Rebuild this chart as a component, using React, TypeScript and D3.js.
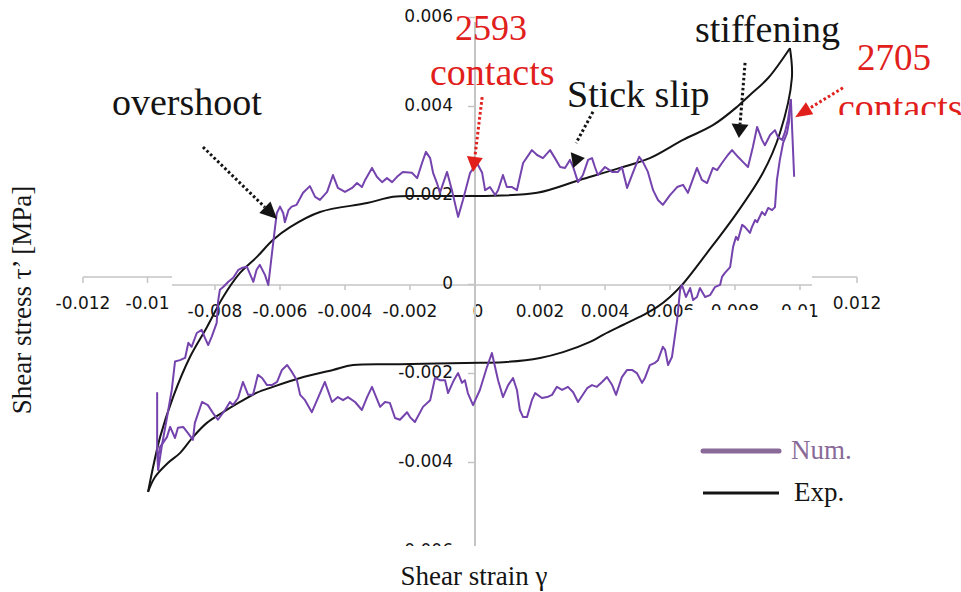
import React from 'react';
import * as d3 from 'd3';

// Shear strain γ and shear stress τ' [MPa]; every value below is in units of 1e-3.
const strainTicks = [-8, -6, -4, -2, 0, 2, 4, 6, 8, 10];
const strainTicksOuter = [-12, -10, 12];
const stressTicks = [6, 4, 2, 0, -2, -4, -6];

// Experiment: loading branch (strain increasing) and unloading branch (strain decreasing)
const expLoading: [number, number][] = [
  [-10.06, -4.66], [-9.69, -3.43], [-9.29, -2.53], [-8.77, -1.63], [-8.25, -0.96],
  [-7.75, -0.28], [-7.23, 0.26], [-6.71, 0.62], [-6.22, 1.0], [-5.69, 1.29],
  [-4.77, 1.63], [-3.32, 1.83], [-2.52, 1.97], [-1.78, 1.99], [0.15, 1.99],
  [1.91, 2.06], [3.23, 2.35], [4.46, 2.62], [5.38, 2.84], [6.4, 3.25],
  [7.32, 3.58], [8.06, 3.99], [8.46, 4.26], [9.02, 4.64], [9.69, 5.31],
];
const expUnloading: [number, number][] = [
  [9.69, 5.31], [9.75, 4.64], [9.38, 3.4], [8.86, 2.51], [8.06, 1.61],
  [7.14, 0.71], [6.37, -0.01], [6.0, -0.28], [5.6, -0.51], [5.17, -0.69],
  [4.55, -0.91], [3.94, -1.13], [3.54, -1.29], [2.71, -1.52], [2.0, -1.65],
  [0.98, -1.74], [0.15, -1.76], [-2.31, -1.79], [-3.75, -1.81], [-4.37, -1.92],
  [-5.38, -2.1], [-6.22, -2.3], [-6.71, -2.43], [-7.23, -2.64], [-7.75, -2.87],
  [-8.25, -3.11], [-8.68, -3.43], [-9.08, -3.79], [-9.45, -4.01], [-9.85, -4.33],
  [-10.06, -4.66],
];

// DEM simulation: loading branch, ending with the drop after the peak
const numLoading: [number, number][] = [
  [-9.78, -2.42], [-9.78, -3.76], [-9.75, -4.17], [-9.64, -3.64], [-9.49, -3.04],
  [-9.33, -2.37], [-9.23, -1.73], [-9.08, -1.7], [-8.92, -1.65], [-8.82, -1.31],
  [-8.72, -1.4], [-8.56, -1.09], [-8.41, -1.02], [-8.31, -1.2], [-8.21, -1.36],
  [-8.1, -1.17], [-7.95, -0.87], [-7.9, -0.35], [-7.85, -0.12], [-7.74, -0.05],
  [-7.59, 0.06], [-7.44, 0.15], [-7.28, 0.33], [-7.18, 0.37], [-7.02, 0.4],
  [-6.82, 0.06], [-6.72, 0.33], [-6.62, 0.44], [-6.46, 0.21], [-6.36, -0.01],
  [-6.26, 0.62], [-6.15, 1.3], [-6.1, 1.6], [-6.0, 1.75], [-5.9, 1.6],
  [-5.85, 1.4], [-5.74, 1.67], [-5.64, 1.75], [-5.49, 1.79], [-5.29, 2.06],
  [-5.08, 2.21], [-4.92, 1.97], [-4.77, 1.9], [-4.55, 2.08], [-4.37, 2.46],
  [-4.22, 2.17], [-4.0, 2.08], [-3.78, 2.17], [-3.63, 2.28], [-3.48, 2.19],
  [-3.38, 2.35], [-3.17, 2.62], [-3.02, 2.42], [-2.86, 2.3], [-2.71, 2.39],
  [-2.55, 2.3], [-2.4, 2.42], [-2.22, 2.53], [-1.94, 2.51], [-1.78, 2.39],
  [-1.63, 2.73], [-1.51, 2.98], [-1.38, 2.84], [-1.29, 2.51], [-1.17, 2.28],
  [-1.08, 2.06], [-0.86, 2.53], [-0.71, 2.12], [-0.52, 1.52], [-0.37, 1.9],
  [-0.15, 2.51], [0.06, 2.73], [0.22, 2.51], [0.31, 2.12], [0.46, 2.19],
  [0.62, 2.01], [0.71, 2.12], [0.86, 2.46], [0.98, 2.19], [1.14, 2.19],
  [1.29, 2.12], [1.48, 2.73], [1.75, 3.02], [1.91, 2.91], [2.09, 2.84],
  [2.31, 3.02], [2.46, 2.84], [2.62, 2.64], [2.77, 2.62], [2.92, 2.8],
  [3.02, 2.64], [3.17, 2.3], [3.32, 2.46], [3.48, 2.8], [3.6, 2.84],
  [3.69, 2.64], [3.78, 2.46], [4.0, 2.64], [4.22, 2.53], [4.4, 2.53],
  [4.52, 2.64], [4.68, 2.17], [4.83, 2.46], [5.05, 2.87], [5.17, 2.75],
  [5.32, 2.53], [5.48, 2.12], [5.63, 1.9], [5.78, 1.79], [6.0, 2.01],
  [6.22, 2.19], [6.4, 2.24], [6.55, 2.06], [6.83, 2.62], [6.98, 2.35],
  [7.14, 2.28], [7.32, 2.62], [7.45, 2.57], [7.6, 2.73], [7.78, 2.91],
  [7.91, 3.02], [8.09, 2.87], [8.25, 2.75], [8.4, 2.64], [8.55, 3.09],
  [8.68, 3.54], [8.83, 3.25], [8.92, 3.13], [9.08, 3.36], [9.23, 3.47],
  [9.32, 3.31], [9.45, 3.25], [9.54, 3.43], [9.63, 3.7], [9.72, 4.15],
  [9.82, 2.42],
];

// DEM simulation: unloading branch back to the negative strain peak
const numUnloading: [number, number][] = [
  [9.72, 4.15], [9.66, 3.65], [9.6, 3.4], [9.48, 3.18], [9.38, 2.8],
  [9.29, 2.35], [9.23, 1.74], [9.14, 1.67], [9.02, 1.72], [8.92, 1.56],
  [8.83, 1.63], [8.68, 1.4], [8.62, 1.45], [8.52, 1.29], [8.46, 1.16],
  [8.31, 1.29], [8.22, 1.34], [8.09, 1.0], [8.03, 1.07], [7.94, 0.84],
  [7.85, 0.39], [7.69, 0.26], [7.6, 0.17], [7.54, -0.01], [7.38, -0.06],
  [7.23, -0.24], [7.08, -0.28], [6.92, -0.08], [6.83, -0.28], [6.71, -0.35],
  [6.62, -0.08], [6.49, -0.28], [6.37, -0.01], [6.31, -0.12], [6.22, -0.8],
  [6.06, -1.63], [5.94, -1.81], [5.85, -1.47], [5.78, -1.4], [5.63, -1.7],
  [5.54, -1.76], [5.38, -1.81], [5.23, -2.1], [5.14, -2.21], [4.98, -1.99],
  [4.83, -1.92], [4.68, -1.92], [4.52, -2.08], [4.34, -2.48], [4.22, -2.26],
  [4.06, -2.08], [3.91, -2.19], [3.75, -2.3], [3.6, -2.26], [3.45, -2.33],
  [3.17, -2.64], [3.02, -2.42], [2.86, -2.3], [2.68, -2.37], [2.52, -2.3],
  [2.37, -2.48], [2.22, -2.53], [2.06, -2.55], [1.85, -2.44], [1.75, -2.6],
  [1.6, -2.98], [1.48, -2.98], [1.38, -2.82], [1.29, -2.37], [1.17, -2.1],
  [1.02, -2.26], [0.86, -2.53], [0.71, -2.15], [0.52, -1.54], [0.37, -1.85],
  [0.15, -2.37], [-0.06, -2.71], [-0.22, -2.44], [-0.31, -2.15], [-0.4, -2.21],
  [-0.52, -1.99], [-0.65, -2.15], [-0.83, -2.44], [-0.92, -2.15], [-1.08, -2.15],
  [-1.23, -2.1], [-1.38, -2.6], [-1.6, -2.75], [-1.85, -3.09], [-2.0, -2.98],
  [-2.09, -2.87], [-2.31, -3.04], [-2.46, -3.0], [-2.62, -2.66], [-2.77, -2.64],
  [-2.92, -2.75], [-3.17, -2.3], [-3.32, -2.53], [-3.48, -2.82], [-3.69, -2.64],
  [-3.91, -2.53], [-4.06, -2.6], [-4.22, -2.53], [-4.4, -2.64], [-4.62, -2.19],
  [-4.83, -2.55], [-5.02, -2.87], [-5.23, -2.6], [-5.38, -2.48], [-5.48, -2.15],
  [-5.63, -1.97], [-5.78, -1.81], [-5.94, -1.92], [-6.09, -2.19], [-6.25, -2.26],
  [-6.4, -2.26], [-6.55, -2.1], [-6.68, -2.03], [-6.83, -2.48], [-6.98, -2.48],
  [-7.14, -2.19], [-7.29, -2.55], [-7.45, -2.71], [-7.54, -2.64], [-7.69, -2.82],
  [-7.91, -3.04], [-8.06, -2.89], [-8.22, -2.71], [-8.4, -2.64], [-8.62, -3.11],
  [-8.68, -3.49], [-8.83, -3.34], [-8.98, -3.2], [-9.14, -3.22], [-9.23, -3.45],
  [-9.38, -3.2], [-9.48, -3.43], [-9.6, -3.56], [-9.69, -3.65], [-9.75, -3.88],
  [-9.75, -4.17],
];

const W = 961;
const H = 592;
const NUM_COLOR = '#7443ad';
const NUM_LEGEND = '#8a6a98';
const RED = '#e1201c';
const INK = '#141414';
const AXIS = '#c4c4c4';
const SERIF = '"Liberation Serif", "Times New Roman", serif';
const SANS = '"DejaVu Sans", sans-serif';

const x = d3.scaleLinear().domain([-12, 12]).range([85, 865]);
const xOuter = d3.scaleLinear().domain([-12, 12]).range([83, 857]);
const y = d3.scaleLinear().domain([-6, 6]).range([551.5, 17.5]);

const fmt = (v: number) => (v === 0 ? '0' : String(+(v / 1000).toFixed(3)));

const line = d3
  .line<[number, number]>()
  .x((d) => x(d[0]))
  .y((d) => y(d[1]));
const smooth = d3
  .line<[number, number]>()
  .x((d) => x(d[0]))
  .y((d) => y(d[1]))
  .curve(d3.curveCatmullRom.alpha(0.5));

type Callout = {
  from: [number, number];
  tip: [number, number];
  color: string;
  lineEnd?: [number, number];
  headAngle?: number;
  len: number;
  width: number;
};

// Dotted arrows pointing at features of the loops (data units)
const callouts: Callout[] = [
  { from: [-8.37, 3.09], tip: [-6.09, 1.47], color: INK, len: 17, width: 16 },
  { from: [0.22, 4.21], tip: [-0.06, 2.53], color: RED, len: 15, width: 16 },
  { from: [3.63, 3.88], lineEnd: [3.11, 3.18], tip: [3.38, 2.84], headAngle: -9, color: INK, len: 13, width: 16 },
  { from: [8.31, 4.98], tip: [8.12, 3.29], color: INK, len: 14, width: 17 },
  { from: [11.32, 4.42], tip: [9.85, 3.76], color: RED, len: 17, width: 14 },
];

function headPoints(tip: [number, number], dir: [number, number], len: number, width: number) {
  const n = Math.hypot(dir[0], dir[1]) || 1;
  const ux = dir[0] / n;
  const uy = dir[1] / n;
  const bx = tip[0] - ux * len;
  const by = tip[1] - uy * len;
  const px = -uy * (width / 2);
  const py = ux * (width / 2);
  return {
    points: `${tip[0]},${tip[1]} ${bx + px},${by + py} ${bx - px},${by - py}`,
    base: [bx, by] as [number, number],
  };
}

function Arrow({ c }: { c: Callout }) {
  const s: [number, number] = [x(c.from[0]), y(c.from[1])];
  const t: [number, number] = [x(c.tip[0]), y(c.tip[1])];
  const dir: [number, number] =
    c.headAngle !== undefined
      ? [Math.cos((c.headAngle * Math.PI) / 180), Math.sin((c.headAngle * Math.PI) / 180)]
      : [t[0] - s[0], t[1] - s[1]];
  const h = headPoints(t, dir, c.len, c.width);
  const e = c.lineEnd ? [x(c.lineEnd[0]), y(c.lineEnd[1])] : h.base;
  return (
    <g>
      <line
        x1={s[0]}
        y1={s[1]}
        x2={e[0]}
        y2={e[1]}
        stroke={c.color}
        strokeWidth={3}
        strokeDasharray="2.6 2.4"
      />
      <polygon points={h.points} fill={c.color} />
    </g>
  );
}

export default function App() {
  const y0 = y(0);
  const mainAxisY = y0 + 0.5;
  const stubY = y0 - 7.5;
  return (
    <svg
      width={W}
      height={H}
      viewBox={`0 0 ${W} ${H}`}
      style={{ position: 'absolute', left: 0, top: 0, background: '#fff' }}
    >
      <defs>
        <clipPath id="right-note">
          <rect x={0} y={0} width={W} height={115} />
        </clipPath>
      </defs>
      <rect x={0} y={0} width={W} height={H} fill="#fff" />

      {/* outer strain scale stubs */}
      <line x1={xOuter(-12)} x2={172} y1={stubY} y2={stubY} stroke={AXIS} strokeWidth={1.5} />
      <line x1={812} x2={xOuter(12)} y1={stubY} y2={stubY} stroke={AXIS} strokeWidth={1.5} />
      {strainTicksOuter.map((v) => (
        <g key={`o${v}`}>
          <line x1={xOuter(v)} x2={xOuter(v)} y1={stubY} y2={stubY + 6} stroke={AXIS} strokeWidth={1.5} />
          <text x={xOuter(v)} y={stubY + 32} textAnchor="middle" fontFamily={SANS} fontSize={17} fill={INK}>
            {fmt(v)}
          </text>
        </g>
      ))}

      {/* strain axis */}
      <line x1={172} x2={812} y1={mainAxisY} y2={mainAxisY} stroke={AXIS} strokeWidth={1.5} />
      {strainTicks.map((v) => (
        <g key={`x${v}`}>
          {v !== 0 && (
            <line x1={x(v)} x2={x(v)} y1={mainAxisY} y2={mainAxisY + 5} stroke={AXIS} strokeWidth={1.5} />
          )}
          <text x={x(v) + (v === 0 ? 3 : 0)} y={mainAxisY + 32} textAnchor="middle" fontFamily={SANS} fontSize={17} fill={INK}>
            {fmt(v)}
          </text>
        </g>
      ))}

      {/* stress axis */}
      <line x1={x(0)} x2={x(0)} y1={22} y2={546} stroke={AXIS} strokeWidth={2} />
      {stressTicks.map((v) => (
        <g key={`y${v}`}>
          <line x1={x(0) - 7} x2={x(0)} y1={y(v)} y2={y(v)} stroke={AXIS} strokeWidth={1.5} />
          <text x={453} y={y(v) + 4.5} textAnchor="end" fontFamily={SANS} fontSize={17} fill={INK}>
            {fmt(v)}
          </text>
        </g>
      ))}
      <rect x={380} y={546} width={120} height={20} fill="#fff" />
      <rect x={684} y={310} width={128} height={16} fill="#fff" />

      {/* hysteresis loops */}
      <path d={smooth(expLoading) || ''} fill="none" stroke={INK} strokeWidth={2} />
      <path d={smooth(expUnloading) || ''} fill="none" stroke={INK} strokeWidth={2} />
      <path d={line(numLoading) || ''} fill="none" stroke={NUM_COLOR} strokeWidth={2} strokeLinejoin="round" />
      <path d={line(numUnloading) || ''} fill="none" stroke={NUM_COLOR} strokeWidth={2} strokeLinejoin="round" />

      {/* callouts */}
      {callouts.map((c, i) => (
        <Arrow key={i} c={c} />
      ))}
      <text x={112} y={115} fontFamily={SERIF} fontSize={38} fill={INK}>overshoot</text>
      <text x={455} y={40} fontFamily={SERIF} fontSize={36} fill={RED}>2593</text>
      <text x={430} y={85} fontFamily={SERIF} fontSize={38} fill={RED}>contacts</text>
      <text x={567} y={107} fontFamily={SERIF} fontSize={38} fill={INK}>Stick slip</text>
      <text x={695} y={42} fontFamily={SERIF} fontSize={38} fill={INK}>stiffening</text>
      <text x={857} y={70} fontFamily={SERIF} fontSize={37} fill={RED}>2705</text>
      <g clipPath="url(#right-note)">
        <text x={838} y={120} fontFamily={SERIF} fontSize={38} fill={RED}>contacts</text>
      </g>

      {/* legend */}
      <line x1={703} x2={779} y1={451} y2={451} stroke={NUM_LEGEND} strokeWidth={5} strokeLinecap="round" />
      <text x={791} y={459} fontFamily={SERIF} fontSize={27} fill={NUM_LEGEND}>Num.</text>
      <line x1={703} x2={779} y1={493} y2={493} stroke={INK} strokeWidth={3} />
      <text x={794} y={501} fontFamily={SERIF} fontSize={27} fill={INK}>Exp.</text>

      {/* axis titles */}
      <text x={474} y={585} textAnchor="middle" fontFamily={SERIF} fontSize={27} fill={INK}>
        Shear strain γ
      </text>
      <text transform="translate(31,300) rotate(-90)" textAnchor="middle" fontFamily={SERIF} fontSize={27} fill={INK}>
        Shear stress τ’ [MPa]
      </text>
    </svg>
  );
}
